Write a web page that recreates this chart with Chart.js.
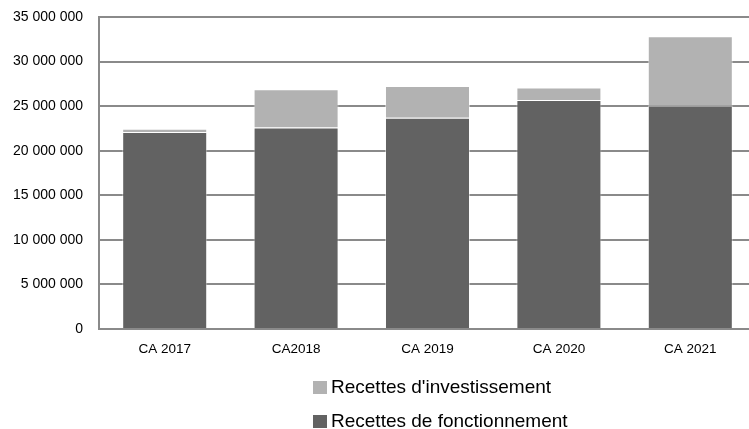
<!DOCTYPE html>
<html>
<head>
<meta charset="utf-8">
<script src="https://cdn.jsdelivr.net/npm/chart.js@4/dist/chart.umd.min.js"></script>
<style>
  body { margin: 0; width: 749px; height: 429px; overflow: hidden; background: #fff; }
  #wrap { position: relative; width: 757px; height: 429px; }
  #legend { position: absolute; left: 313px; top: 370px; font-family: "Liberation Sans", Arial, sans-serif; font-size: 19px; color: #000; }
  #legend .item { display: flex; align-items: center; height: 34px; }
  #legend .box { width: 14px; height: 13px; margin-right: 4px; }
</style>
</head>
<body>
<div id="wrap">
  <canvas id="chart" width="757" height="429"></canvas>
  <div id="legend"></div>
</div>
<script>
const categories = ['CA 2017', 'CA2018', 'CA 2019', 'CA 2020', 'CA 2021'];
const fonctionnement = [22100000, 22600000, 23700000, 25700000, 25050000];
const investissement = [350000, 4300000, 3550000, 1400000, 7800000];
const yTicks = [0, 5000000, 10000000, 15000000, 20000000, 25000000, 30000000, 35000000];

const gridGray = '#8a8a8a';
const tickFont = { family: '"Liberation Sans", Arial, sans-serif', size: 14 };

function fmt(v) {
  return String(v).replace(/\B(?=(\d{3})+(?!\d))/g, ' ');
}

const datasets = [
  {
    label: 'Recettes de fonctionnement',
    data: fonctionnement,
    backgroundColor: '#626262',
    borderColor: 'rgba(255,255,255,0.45)',
    borderWidth: 1,
  },
  {
    label: "Recettes d'investissement",
    data: investissement,
    backgroundColor: '#b2b2b2',
    borderColor: 'rgba(255,255,255,0.45)',
    borderWidth: 1,
  },
];

const chart = new Chart(document.getElementById('chart'), {
  type: 'bar',
  data: { labels: categories, datasets: datasets },
  options: {
    responsive: false,
    animation: false,
    layout: { padding: { top: 17, right: 1, left: 0, bottom: 0 } },
    datasets: { bar: { categoryPercentage: 1, barPercentage: 0.647 } },
    plugins: {
      legend: { display: false },
      tooltip: { enabled: false },
    },
    scales: {
      x: {
        stacked: true,
        grid: { display: false, drawTicks: false },
        border: { display: true, color: gridGray, width: 2 },
        ticks: { color: '#000', font: { family: tickFont.family, size: 13.5 }, padding: 12, maxRotation: 0 },
        afterFit: (scale) => { scale.height = 100; },
      },
      y: {
        stacked: true,
        min: 0,
        max: 35000000,
        afterBuildTicks: (scale) => { scale.ticks = yTicks.map(v => ({ value: v })); },
        grid: { color: gridGray, lineWidth: 2, drawTicks: false },
        border: { display: true, color: gridGray, width: 2 },
        ticks: { color: '#000', font: tickFont, padding: 16, callback: (v) => fmt(v) },
        afterFit: (scale) => {
          scale.width = 99;
          // tick padding would otherwise push the plot top down
          scale.paddingTop = 0;
          scale.paddingBottom = 0;
        },
      },
    },
  },
});

// legend, listed top-down the way the original shows it
const legendEl = document.getElementById('legend');
datasets.slice().reverse().forEach(ds => {
  const item = document.createElement('div');
  item.className = 'item';
  const box = document.createElement('span');
  box.className = 'box';
  box.style.background = ds.backgroundColor;
  const txt = document.createElement('span');
  txt.textContent = ds.label;
  item.appendChild(box);
  item.appendChild(txt);
  legendEl.appendChild(item);
});
</script>
</body>
</html>
